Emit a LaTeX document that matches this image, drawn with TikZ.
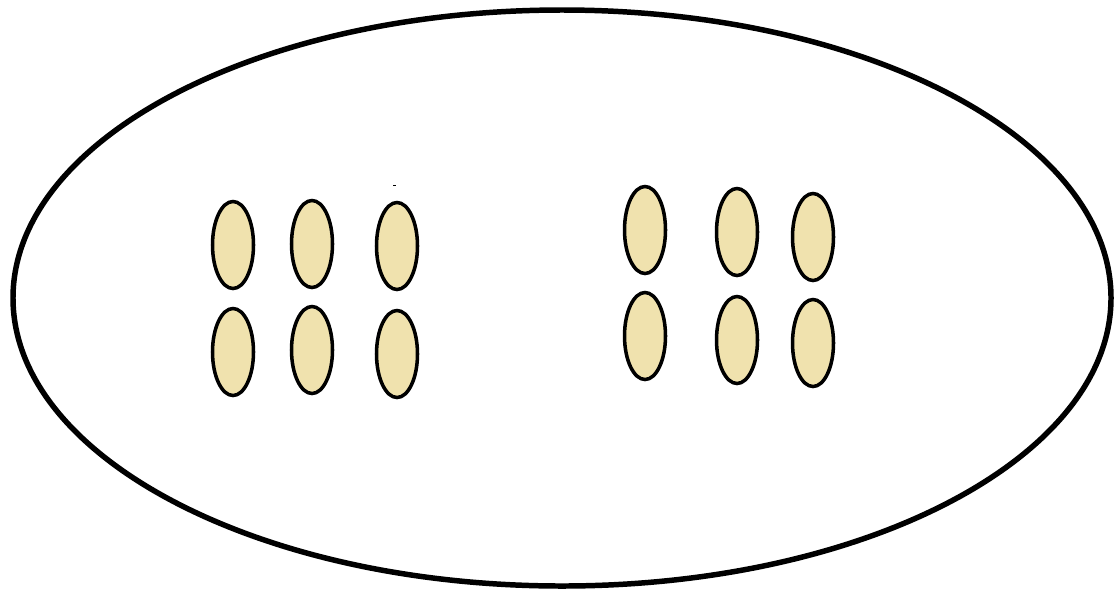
\documentclass[tikz,border=0pt]{standalone}
\definecolor{c1}{HTML}{000000}
\definecolor{c2}{HTML}{F0E2AE}

\begin{document}
\begin{tikzpicture}[
    x=0.025cm, y=-0.025cm,
    outer/.style={draw=c1, line width=3.9pt},
    seed/.style={draw=c1, fill=c2, line width=2.5pt},
]
\useasboundingbox (0, 0) rectangle (1115, 594);

% the big outline
\draw[outer] (562, 298) ellipse [x radius=549, y radius=288];

% left cluster
\foreach \cx/\cy in {233/245, 312/244, 397/246, 233/352, 312/350, 397/354}{
    \draw[seed] (\cx, \cy) ellipse [x radius=20.5, y radius=43.5];
}

% right cluster
\foreach \cx/\cy in {645/230, 737/232, 813/237, 645/336, 737/340, 813/343}{
    \draw[seed] (\cx, \cy) ellipse [x radius=20.5, y radius=43.5];
}

% stray mark
\draw[c1, line width=0.6pt] (393, 185) -- (396, 185);
\end{tikzpicture}
\end{document}
